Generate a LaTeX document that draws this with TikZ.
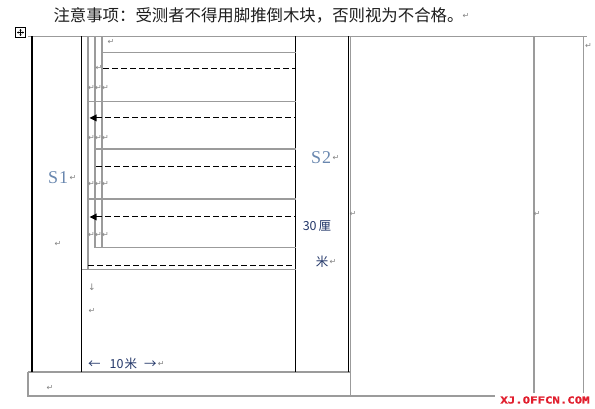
\documentclass[tikz,border=0pt]{standalone}
\usepackage{fontspec}
\setmainfont{Liberation Serif}
\newfontfamily\cjk{Noto Sans CJK SC}
\newfontfamily\dvs{DejaVu Sans}
\newfontfamily\wm[FakeStretch=1.3,FakeBold=1.5]{DejaVu Sans Mono Bold}
\usetikzlibrary{arrows.meta}
\definecolor{linegray}{RGB}{155,155,155}
\definecolor{markgray}{RGB}{130,130,130}
\definecolor{sblue}{RGB}{105,135,175}
\definecolor{navy}{RGB}{35,55,105}
\definecolor{wmred}{RGB}{225,30,45}
\definecolor{titlecol}{RGB}{30,30,30}
\tikzset{
  blk/.style={line width=1.2pt,black},
  gry/.style={line width=1.3pt,linegray},
  dsh/.style={line width=1pt,black,dash pattern=on 6pt off 3pt},
  ret/.style={font=\dvs\fontsize{8}{8}\selectfont,text=markgray,inner sep=0pt},
  tip/.style={fill=black},
  slabel/.style={font=\fontsize{18}{18}\selectfont,text=sblue,inner sep=0pt},
  nlabel/.style={font=\cjk\fontsize{12.5}{12.5}\selectfont,text=navy,inner sep=0pt},
}
\begin{document}
\begin{tikzpicture}[x=1pt,y=-1pt]
\useasboundingbox (0,0) rectangle (595,409);
\fill[white] (0,0) rectangle (595,409);

% title
\node[font=\cjk\fontsize{16.4}{16.4}\selectfont,text=titlecol,inner sep=0pt] (title) at (258.5,15) {注意事项：受测者不得用脚推倒木块，否则视为不合格。};
\node[ret] (rt) at (466,16) {↵};

% table move handle
\draw[line width=0.6pt] (15.5,27.5) rectangle (25.5,37.5);
\draw[line width=0.5pt,-{Stealth[length=1.5pt,width=2pt]}] (20.5,32.5) -- (17,32.5);
\draw[line width=0.5pt,-{Stealth[length=1.5pt,width=2pt]}] (20.5,32.5) -- (24,32.5);
\draw[line width=0.5pt,-{Stealth[length=1.5pt,width=2pt]}] (20.5,32.5) -- (20.5,29);
\draw[line width=0.5pt,-{Stealth[length=1.5pt,width=2pt]}] (20.5,32.5) -- (20.5,36);

% outer grid
\draw[gry] (28,36.5) -- (587,36.5);
\draw[gry] (350.5,36.5) -- (350.5,396);
\draw[gry] (534,36.5) -- (534,393);
\draw[gry] (583.5,36.5) -- (583.5,393);
\draw[gry] (28,372) -- (350.5,372);
\draw[gry] (28,372) -- (28,396) -- (495,396);
\draw[blk] (32,36.5) -- (32,372);
\draw[blk] (81.5,36.5) -- (81.5,372);
\draw[blk] (295.5,36.5) -- (295.5,372);
\draw[blk] (348.5,36.5) -- (348.5,372);

% nested verticals
\draw[gry] (88,36.5) -- (88,269.5);
\draw[gry] (95,36.5) -- (95,248);
\draw[gry] (102,36.5) -- (102,248);

% nested horizontals
\draw[gry] (102,52.7) -- (295.5,52.7);
\draw[gry] (88,101.7) -- (295.5,101.7);
\draw[gry] (96,149) -- (295.5,149);
\draw[gry] (88,199) -- (295.5,199);
\draw[gry] (96,247.7) -- (295.5,247.7);
\draw[gry] (81.5,269.5) -- (295.5,269.5);

% dashed lines
\draw[dsh] (103,69) -- (295.5,69);
\draw[dsh] (96,118) -- (295.5,118);
\fill[tip] (89.5,118) -- (96.5,114.5) -- (96.5,121.5) -- cycle;
\draw[dsh] (96,166.7) -- (295.5,166.7);
\draw[dsh] (96,217) -- (295.5,217);
\fill[tip] (89.5,217) -- (96.5,213.5) -- (96.5,220.5) -- cycle;
\draw[dsh] (88,265.7) -- (295.5,265.7);

% paragraph marks in nested cells
\node[ret] (r1) at (111,42) {↵};
\node[ret] (r2) at (99,68) {↵};
\foreach \yy [count=\i] in {88,137.7,184,235}{
  \node[ret] (ra\i) at (91.5,\yy) {↵};
  \node[ret] (rb\i) at (98.5,\yy) {↵};
  \node[ret] (rc\i) at (105.5,\yy) {↵};
}

% S1 / S2
\node[slabel,anchor=west] (s1) at (48,178) {S\kern1pt1};
\node[ret,anchor=west] (s1r) at ([xshift=1pt]s1.east) {↵};
\node[ret] (r3) at (58,244) {↵};
\node[slabel,anchor=west] (s2) at (311,158) {S\kern1pt2};
\node[ret,anchor=west] (s2r) at ([xshift=1pt]s2.east) {↵};

% 30 cm
\node[nlabel] (cm) at (317,226) {30\,厘};
\node[nlabel] (mi) at (322,262) {米};
\node[ret,anchor=west] (mir) at ([xshift=1pt]mi.east) {↵};

% right cells
\node[ret] (r4) at (353,214) {↵};
\node[ret] (r5) at (537,214) {↵};
\node[ret] (r6) at (588.5,46) {↵};

% bottom part of left cell
\node[font=\dvs\fontsize{9}{9}\selectfont,text=markgray,inner sep=0pt] (dn) at (92,287) {↓};
\node[ret] (r7) at (92,311) {↵};
\node[nlabel,anchor=west] (ten) at (88,364) {←\hspace{9pt}10\hspace{1pt}米\hspace{7pt}→};
\node[ret,anchor=west] (tenr) at ([xshift=1pt]ten.east) {↵};
\node[ret] (r8) at (50,388) {↵};

% watermark
\node[font=\wm\fontsize{9.5}{9.5}\selectfont,text=wmred,inner sep=0pt] (wm) at (545,400) {XJ.OFFCN.COM};
\end{tikzpicture}
\end{document}
